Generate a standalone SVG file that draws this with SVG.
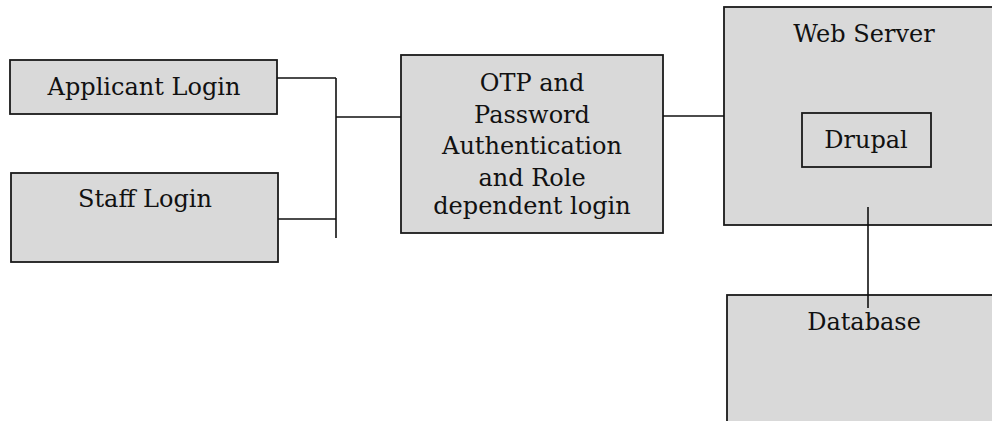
<svg xmlns="http://www.w3.org/2000/svg" width="992" height="421" viewBox="0 0 992 421">
<style>
.box{fill:#d9d9d9;stroke:#1a1a1a;stroke-width:1.8}
.lbl{font-family:"DejaVu Serif","Liberation Serif",serif;font-size:24px;fill:#111;text-anchor:middle}
.wire{stroke:#111;stroke-width:1.6;fill:none}
</style>
<rect width="992" height="421" fill="#fff"/>
<g id="applicant">
<rect class="box" x="10" y="60" width="267" height="54"/>
<text class="lbl" x="144" y="95">Applicant Login</text>
</g>
<g id="staff">
<rect class="box" x="11" y="173" width="267" height="89"/>
<text class="lbl" x="145" y="207">Staff Login</text>
</g>
<g id="auth">
<rect class="box" x="401" y="55" width="262" height="178"/>
<text class="lbl" x="532" y="91">OTP and</text>
<text class="lbl" x="532" y="123">Password</text>
<text class="lbl" x="532" y="154">Authentication</text>
<text class="lbl" x="532" y="186">and Role</text>
<text class="lbl" x="532" y="214">dependent login</text>
</g>
<g id="webserver">
<rect class="box" x="724" y="7" width="280" height="218"/>
<text class="lbl" x="864" y="42">Web Server</text>
</g>
<g id="drupal">
<rect class="box" x="802" y="113" width="129" height="54"/>
<text class="lbl" x="866" y="148">Drupal</text>
</g>
<g id="database">
<rect class="box" x="727" y="295" width="280" height="140"/>
<text class="lbl" x="864" y="330">Database</text>
</g>
<g id="connectors">
<path class="wire" d="M277 78H336M336 78V238M278 219H336M336 117H401"/>
<path class="wire" d="M663 116H724"/>
<path class="wire" d="M868 207V308"/>
</g>
</svg>
